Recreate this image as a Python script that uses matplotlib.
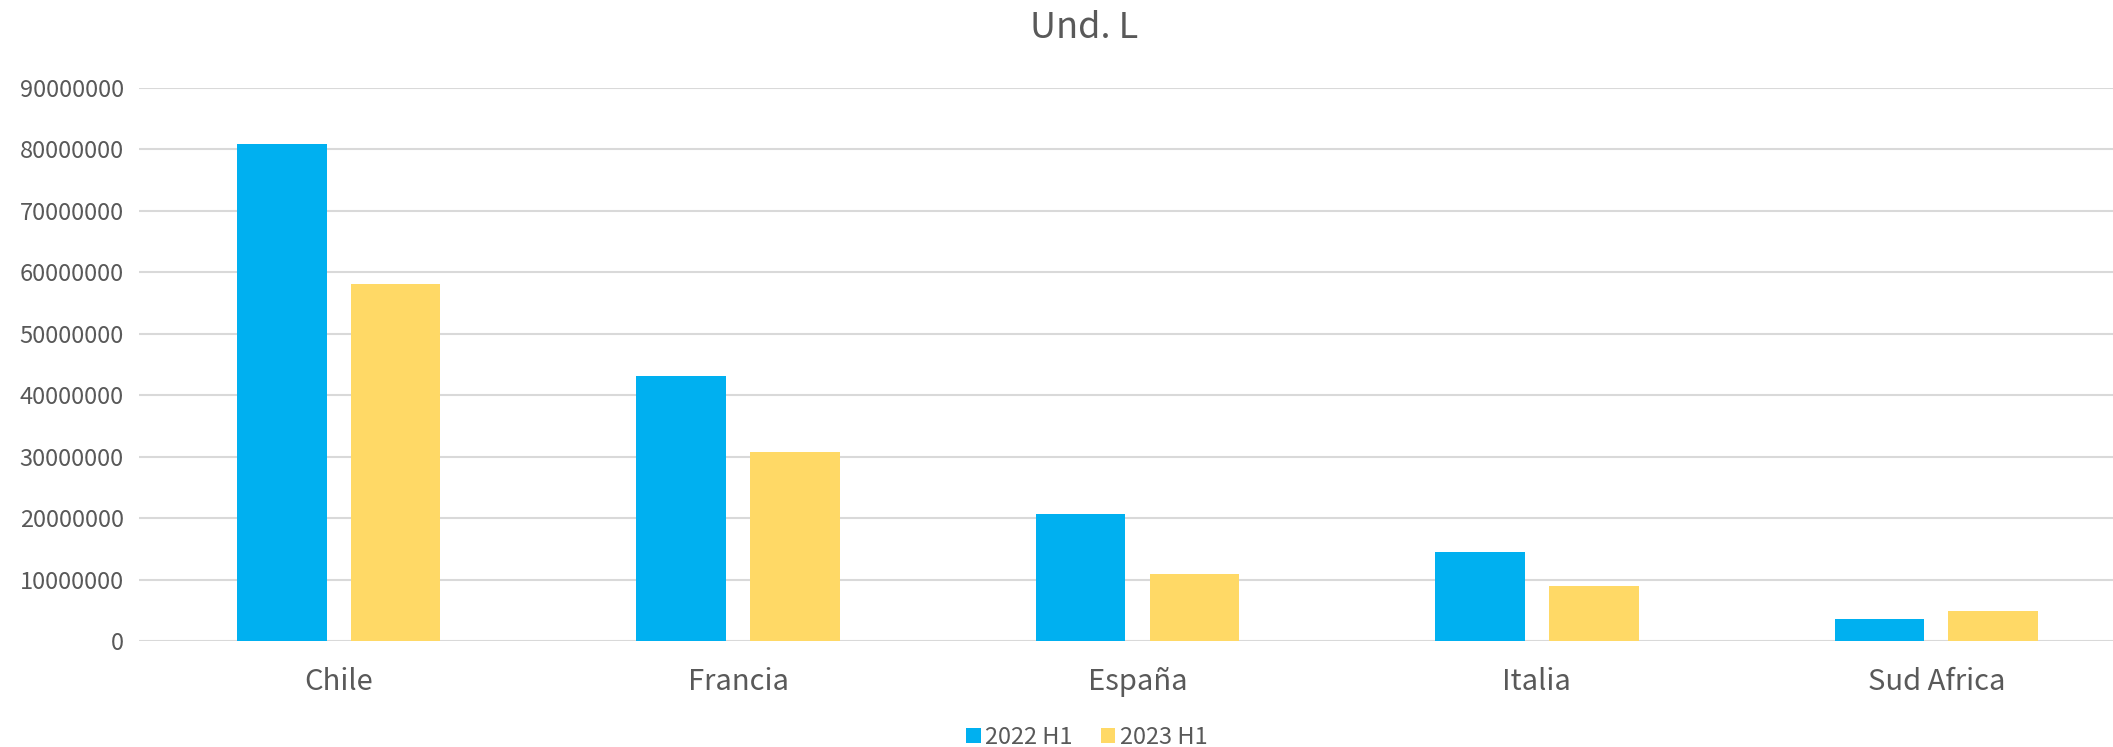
import matplotlib
matplotlib.use('Agg')
import matplotlib.pyplot as plt
import numpy as np

plt.rcParams['font.family'] = ['Noto Sans CJK SC', 'DejaVu Sans']

# 数据
paises = ['Chile', 'Francia', 'España', 'Italia', 'Sud Africa']
h1_2022 = [80900000, 43100000, 20600000, 14500000, 3500000]
h1_2023 = [58100000, 30800000, 10900000, 9000000, 4850000]
series = ['2022 H1', '2023 H1']
colores = ['#00B0F0', '#FFD966']
gris = '#595959'

W, H = 2113, 747
fig = plt.figure(figsize=(W / 100, H / 100), dpi=100)
# el área del gráfico se sale un poco por la derecha (como en la original)
ax = fig.add_axes([139 / W, (H - 641) / H, (2136 - 139) / W, (641 - 88) / H])

x = np.arange(len(paises))
ancho = 0.224
off = 0.1424
ax.bar(x - off, h1_2022, ancho, color=colores[0], label=series[0], zorder=3)
ax.bar(x + off, h1_2023, ancho, color=colores[1], label=series[1], zorder=3)

ax.set_xlim(-0.5, len(paises) - 0.5)
ax.set_ylim(0, 90000000)
ax.set_yticks(range(0, 90000001, 10000000))
ax.set_yticklabels([str(v) for v in range(0, 90000001, 10000000)])
ax.set_xticks(x)
ax.set_xticklabels(paises)

ax.grid(axis='y', color='#D9D9D9', linewidth=1.5, zorder=0)
for s in ax.spines.values():
    s.set_visible(False)
ax.tick_params(axis='both', length=0, colors=gris)
ax.tick_params(axis='y', labelsize=17, pad=11)
ax.tick_params(axis='x', labelsize=21, pad=19)

fig.text(1084 / W, 1 - 28 / H, 'Und. L', ha='center', va='center',
         fontsize=26, color=gris, fontweight='light')

fig.legend(loc='center', bbox_to_anchor=(1087 / W, 1 - 737 / H), ncol=2,
           frameon=False, fontsize=17, labelcolor=gris, handlelength=0.6,
           handleheight=0.6, handletextpad=0.2, columnspacing=1.2)

fig.savefig('out.png', dpi=100)
